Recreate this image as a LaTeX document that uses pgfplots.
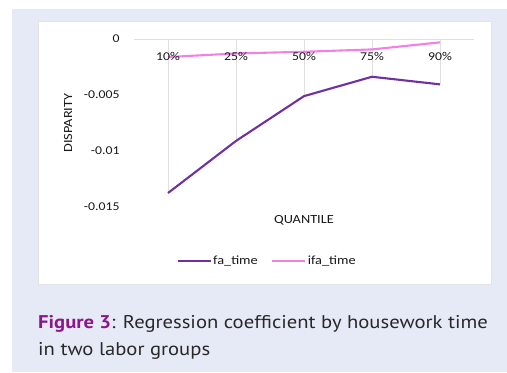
\documentclass[border=0pt]{standalone}
\usepackage{fontspec}
\usepackage{pgfplots}
\usepackage{pgfplotstable}
\pgfplotsset{compat=1.18}
\setmainfont{Carlito}[FakeStretch=1.15]
\newfontfamily\capfont{PT Sans}[FakeStretch=1.12]

\definecolor{pagebg}{RGB}{230,234,246}
\definecolor{fapurple}{RGB}{112,48,160}
\definecolor{ifapink}{RGB}{242,128,230}
\definecolor{figpurple}{RGB}{140,22,140}
\definecolor{captext}{RGB}{40,40,40}
\definecolor{dropgray}{RGB}{224,224,224}

% quantile index, coefficient
\pgfplotstableread{
q   coef
0   -0.01375
1   -0.00910
2   -0.00510
3   -0.00337
4   -0.00405
}\fatime
\pgfplotstableread{
q   coef
0   -0.00161
1   -0.00129
2   -0.00114
3   -0.00093
4   -0.00030
}\ifatime

\begin{document}
\begin{tikzpicture}[x=1bp,y=1bp]
\useasboundingbox (0,0) rectangle (507,-372);
% page background and chart panel
\fill[pagebg] (12,-9) rectangle (507,-372);
\filldraw[fill=white,draw=gray!22,line width=0.8bp] (38,-21) rectangle (491,-284);

\begin{axis}[
  at={(134bp,-207bp)}, anchor=south west,
  scale only axis, width=340bp, height=168bp,
  xmin=-0.5, xmax=4.5, ymin=-0.015, ymax=0,
  axis on top,
  axis x line=middle, axis y line=left,
  x axis line style={draw=gray!25, line width=0.8bp, -},
  y axis line style={draw=none},
  major tick length=0pt,
  scaled y ticks=false,
  xtick={0,1,2,3,4},
  xticklabels={10\%,25\%,50\%,75\%,90\%},
  ytick={-0.015,-0.01,-0.005,0},
  yticklabels={-0.015,-0.01,-0.005,0},
  tick label style={font=\fontsize{12}{14}\selectfont, text=black!90},
  xticklabel style={anchor=north, yshift=-10bp},
  yticklabel style={anchor=east, xshift=-11bp},
  xlabel={QUANTILE}, ylabel={DISPARITY},
  every axis x label/.style={at={(axis description cs:0.5,0)}, anchor=north, yshift=-5bp,
    font=\fontsize{12.5}{14}\selectfont, text=black!90},
  every axis y label/.style={at={(axis description cs:-0.194,0.5)}, rotate=90, anchor=center,
    font=\fontsize{12.5}{14}\selectfont, text=black!90},
  clip=false,
  legend style={at={(0.391,-0.321)}, anchor=center, draw=none, fill=none,
    font=\fontsize{12.5}{14}\selectfont, text=black!90,
    legend columns=2, inner sep=0pt,
    nodes={inner sep=1.5bp},
    /tikz/every even column/.append style={column sep=12bp}},
  legend image code/.code={\draw[#1, line width=2bp] (0bp,0bp) -- (33bp,0bp);},
]
% drop lines from the axis down to the fa_time points
\addplot[ycomb, dropgray, line width=0.8bp, forget plot] table[x=q,y=coef] {\fatime};
\addplot[fapurple, line width=2.1bp] table[x=q,y=coef] {\fatime};
\addplot[ifapink, line width=2.1bp] table[x=q,y=coef] {\ifatime};
\legend{fa\_time, ifa\_time}
\end{axis}

% caption
\node[anchor=base west, inner sep=0pt, text=captext, font=\capfont\fontsize{18.5}{22}\selectfont]
  at (38,-328) {\textcolor{figpurple}{\bfseries Figure 3}: Regression coefficient by housework time};
\node[anchor=base west, inner sep=0pt, text=captext, font=\capfont\fontsize{18.5}{22}\selectfont]
  at (38,-355) {in two labor groups};
\end{tikzpicture}
\end{document}
